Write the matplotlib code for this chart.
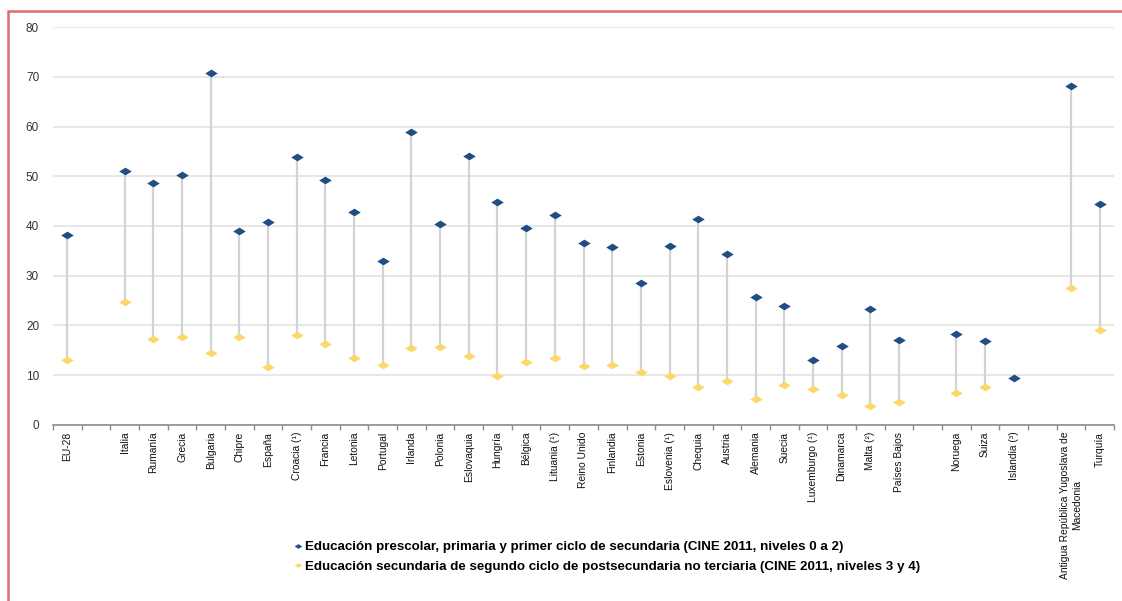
import numpy as np
import matplotlib
matplotlib.use("Agg")
import matplotlib.pyplot as plt
from matplotlib.patches import Rectangle
from matplotlib.lines import Line2D

plt.rcParams['font.family'] = ['Liberation Sans', 'DejaVu Sans']

# Categories ('' = empty slot)
categories = ["EU-28", "", "Italia", "Rumanía", "Grecia", "Bulgaria", "Chipre", "España",
              "Croacia (¹)", "Francia", "Letonia", "Portugal", "Irlanda", "Polonia",
              "Eslovaquia", "Hungría", "Bélgica", "Lituania (¹)", "Reino Unido", "Finlandia",
              "Estonia", "Eslovenia (¹)", "Chequia", "Austria", "Alemania", "Suecia",
              "Luxemburgo (¹)", "Dinamarca", "Malta (²)", "Países Bajos", "",
              "Noruega", "Suiza", "Islandia (³)", "",
              "Antigua República Yugoslava de\nMacedonia", "Turquía"]

nan = np.nan
low_sec = [38.1, nan, 51.0, 48.7, 50.2, 70.7, 38.9, 40.9,
           53.8, 49.3, 42.8, 33.0, 58.9, 40.4,
           54.0, 44.9, 39.5, 42.3, 36.6, 35.8,
           28.6, 36.0, 41.5, 34.4, 25.7, 23.9,
           13.0, 15.9, 23.2, 17.1, nan,
           18.3, 16.9, 9.5, nan,
           68.2, 44.4]
up_sec = [13.0, nan, 24.6, 17.2, 17.6, 14.4, 17.6, 11.6,
          18.1, 16.2, 13.4, 12.0, 15.4, 15.6,
          13.9, 9.9, 12.6, 13.4, 11.8, 12.0,
          10.7, 9.9, 7.6, 8.7, 5.2, 8.0,
          7.2, 5.9, 3.7, 4.5, nan,
          6.4, 7.5, nan, nan,
          27.6, 19.0]

legend_labels = ["Educación prescolar, primaria y primer ciclo de secundaria (CINE 2011, niveles 0 a 2)",
                 "Educación secundaria de segundo ciclo de postsecundaria no terciaria (CINE 2011, niveles 3 y 4)"]

blue = '#1F4E85'
yellow = '#FDD868'
diamond = [(-1, 0), (0, 0.62), (1, 0), (0, -0.62), (-1, 0)]

fig = plt.figure(figsize=(11.22, 6.01), dpi=100)
ax = fig.add_axes([53/1122, 1-424.7/601, (1114-53)/1122, (424.7-27.3)/601])

x = np.arange(len(categories))
lo = np.array(low_sec, dtype=float)
hi = np.array(up_sec, dtype=float)
mask = ~np.isnan(lo) & ~np.isnan(hi)
ax.vlines(x[mask], np.minimum(lo, hi)[mask], np.maximum(lo, hi)[mask],
          colors='#D3D3D3', linewidth=1.6, zorder=2)
ax.plot(x, lo, linestyle='none', marker=diamond, markersize=9, color=blue,
        markeredgewidth=0, zorder=3)
ax.plot(x, hi, linestyle='none', marker=diamond, markersize=9, color=yellow,
        markeredgewidth=0, zorder=3)

ax.set_xlim(-0.5, len(categories) - 0.5)
ax.set_ylim(0, 80)
ax.set_yticks(np.arange(0, 81, 10))
ax.yaxis.grid(True, color='#E3E3E3', linewidth=1.2, zorder=0)
ax.set_axisbelow(True)
for s in ['left', 'right', 'top']:
    ax.spines[s].set_visible(False)
ax.spines['bottom'].set_color('#8C8C8C')
ax.spines['bottom'].set_linewidth(1.2)
ax.tick_params(axis='y', length=0, labelsize=8.5, labelcolor='#333333', pad=10)

ax.set_xticks(x)
ax.set_xticklabels(categories, rotation=90, fontsize=7.4, va='top', ha='center',
                   multialignment='center')
ax.tick_params(axis='x', which='major', length=0, pad=5, labelcolor='#111111')
ax.set_xticks(np.arange(-0.5, len(categories), 1.0), minor=True)
ax.tick_params(axis='x', which='minor', length=3.5, color='#8C8C8C', width=1)

handles = [Line2D([], [], linestyle='none', marker=diamond, markersize=5.5, color=blue, markeredgewidth=0),
           Line2D([], [], linestyle='none', marker=diamond, markersize=5.5, color=yellow, markeredgewidth=0)]
fig.legend(handles, legend_labels, loc='upper left', bbox_to_anchor=(282/1122, 1-529/601),
           frameon=False, handlelength=0.6, handletextpad=0.25, labelspacing=0.55,
           prop={'weight': 'bold', 'size': 9.6})

fig.patches.append(Rectangle((8/1122, -0.2), 1.2, 1.2 - 11/601, transform=fig.transFigure,
                             fill=False, edgecolor='#E06B6B', linewidth=1.8, clip_on=False))

fig.savefig('out.png', dpi=100)
